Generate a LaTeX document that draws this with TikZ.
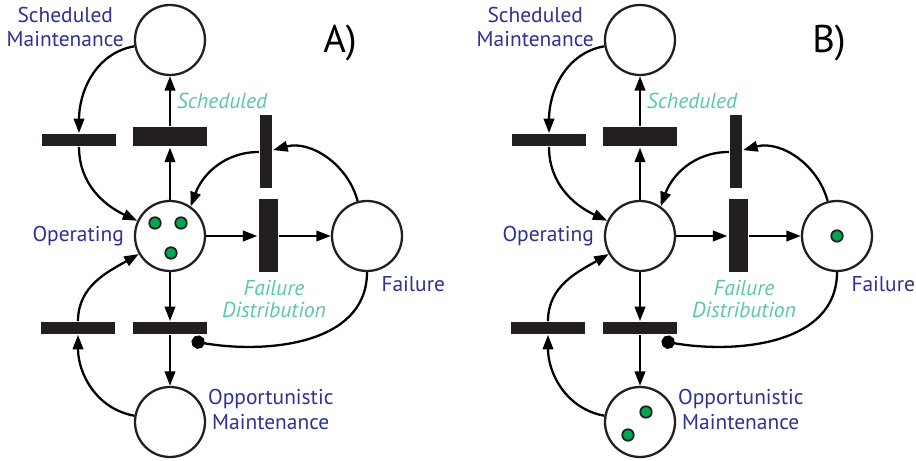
\documentclass[tikz,border=0pt]{standalone}
\usepackage{fontspec}
\setmainfont{PT Sans}
\usepackage{xcolor}
\usepackage{tikz}
\usetikzlibrary{arrows.meta}
\definecolor{azulEtiqueta}{RGB}{46,49,146}
\definecolor{verdeAgua}{RGB}{92,198,168}
\definecolor{verdeFicha}{RGB}{0,166,81}
\definecolor{barra}{RGB}{35,31,32}

\begin{document}
\begin{tikzpicture}[>={Triangle[length=0.29cm, width=0.21cm]}, line width=1.3pt]
      % Definimos algunos estilos
      \useasboundingbox (0,0) rectangle (18.32,-9.22);
      % lugares de la red de Petri
      \tikzstyle{lugar}=[circle, draw=barra, fill=white, inner sep=0pt, minimum size=1.40cm]
      % transiciones: barras horizontales y verticales
      \tikzstyle{trans_h}=[rectangle, fill=barra, inner sep=0pt, minimum width=1.48cm, minimum height=0.23cm]
      \tikzstyle{trans_v}=[rectangle, fill=barra, inner sep=0pt, minimum width=0.24cm, minimum height=1.46cm]
      % fichas
      \tikzstyle{ficha}=[circle, fill=verdeFicha, draw=barra, line width=1pt, inner sep=0pt, minimum size=0.23cm]
      % textos
      \tikzstyle{etiqueta}=[text=azulEtiqueta, font=\fontsize{12.2}{14.2}\selectfont]
      \tikzstyle{etiqueta_trans}=[text=verdeAgua, font=\fontsize{12.3}{12.2}\selectfont\itshape]

      % A)
      \node (tituloA) at (6.80, -0.86) {\fontsize{22}{24}\selectfont A)};
      \node[lugar, label={[etiqueta, align=center, xshift=-0.06cm, yshift=0.26cm]left:Scheduled\\Maintenance}] (SMA) at (3.40, -0.80) {};
      \node[lugar, label={[etiqueta, xshift=-0.06cm]left:Operating}] (OpA) at (3.40, -4.72) {};
      \node[lugar, label={[etiqueta, anchor=north west, inner sep=0pt, xshift=0.02cm, yshift=-0.1cm]-70:Failure}] (FaA) at (7.34, -4.72) {};
      \node[lugar, label={[etiqueta, align=center, xshift=-0.1cm, yshift=0.25cm]right:Opportunistic\\Maintenance}] (OMA) at (3.40, -8.44) {};
      \node[trans_h] (tA1) at (1.58, -2.80) {};
      \node[trans_h, minimum height=0.38cm, label={[etiqueta_trans, xshift=1.04cm, yshift=0.22cm]above:Scheduled}] (tA2) at (3.40, -2.74) {};
      \node[trans_v] (tA3) at (5.32, -3.04) {};
      \node[trans_v, minimum width=0.38cm, label={[etiqueta_trans, align=center, xshift=0.12cm]below:Failure\\Distribution}] (tA4) at (5.36, -4.72) {};
      \node[trans_h] (tA5) at (1.56, -6.56) {};
      \node[trans_h] (tA6) at (3.40, -6.56) {};
      \coordinate (inhA) at (3.83, -6.82);
      \node[ficha] (fA1) at (3.10, -4.46) {};
      \node[ficha] (fA2) at (3.62, -4.46) {};
      \node[ficha] (fA3) at (3.42, -5.06) {};

      \draw (SMA) edge[->, out=190, in=90] (tA1);
      \draw (tA1) edge[->, out=-90, in=155] (OpA);
      \draw (OpA) edge[->] (tA2);
      \draw (tA2) edge[->] (SMA);
      \draw (FaA) edge[->, out=105, in=15] (tA3);
      \draw (tA3) edge[->, out=180, in=70] (OpA.55);
      \draw (OpA) edge[->] (tA4);
      \draw (tA4) edge[->] (FaA);
      \draw (FaA) edge[-{Circle[length=0.27cm]}, out=-90, in=-10] (inhA);
      \draw (OpA) edge[->] (tA6);
      \draw (tA6) edge[->] (OMA);
      \draw (OMA) edge[->, out=170, in=-90] (tA5);
      \draw (tA5) edge[->, out=90, in=210] (OpA);

      % B)
      \node (tituloB) at (16.58, -0.86) {\fontsize{22}{24}\selectfont B)};
      \node[lugar, label={[etiqueta, align=center, xshift=-0.06cm, yshift=0.26cm]left:Scheduled\\Maintenance}] (SMB) at (3.40 + 9.4, -0.80) {};
      \node[lugar, label={[etiqueta, xshift=-0.06cm]left:Operating}] (OpB) at (3.40 + 9.4, -4.72) {};
      \node[lugar, label={[etiqueta, anchor=north west, inner sep=0pt, xshift=0.02cm, yshift=-0.1cm]-70:Failure}] (FaB) at (7.34 + 9.4, -4.72) {};
      \node[lugar, label={[etiqueta, align=center, xshift=-0.1cm, yshift=0.25cm]right:Opportunistic\\Maintenance}] (OMB) at (3.40 + 9.4, -8.44) {};
      \node[trans_h] (tB1) at (1.58 + 9.4, -2.80) {};
      \node[trans_h, minimum height=0.38cm, label={[etiqueta_trans, xshift=1.04cm, yshift=0.22cm]above:Scheduled}] (tB2) at (3.40 + 9.4, -2.74) {};
      \node[trans_v] (tB3) at (5.32 + 9.4, -3.04) {};
      \node[trans_v, minimum width=0.38cm, label={[etiqueta_trans, align=center, xshift=0.12cm]below:Failure\\Distribution}] (tB4) at (5.36 + 9.4, -4.72) {};
      \node[trans_h] (tB5) at (1.56 + 9.4, -6.56) {};
      \node[trans_h] (tB6) at (3.40 + 9.4, -6.56) {};
      \coordinate (inhB) at (3.83 + 9.4, -6.82);
      \node[ficha] (fB1) at (16.74, -4.72) {};
      \node[ficha] (fB2) at (12.92, -8.24) {};
      \node[ficha] (fB3) at (12.56, -8.70) {};

      \draw (SMB) edge[->, out=190, in=90] (tB1);
      \draw (tB1) edge[->, out=-90, in=155] (OpB);
      \draw (OpB) edge[->] (tB2);
      \draw (tB2) edge[->] (SMB);
      \draw (FaB) edge[->, out=105, in=15] (tB3);
      \draw (tB3) edge[->, out=180, in=70] (OpB.55);
      \draw (OpB) edge[->] (tB4);
      \draw (tB4) edge[->] (FaB);
      \draw (FaB) edge[-{Circle[length=0.27cm]}, out=-90, in=-10] (inhB);
      \draw (OpB) edge[->] (tB6);
      \draw (tB6) edge[->] (OMB);
      \draw (OMB) edge[->, out=170, in=-90] (tB5);
      \draw (tB5) edge[->, out=90, in=210] (OpB);
\end{tikzpicture}
\end{document}
